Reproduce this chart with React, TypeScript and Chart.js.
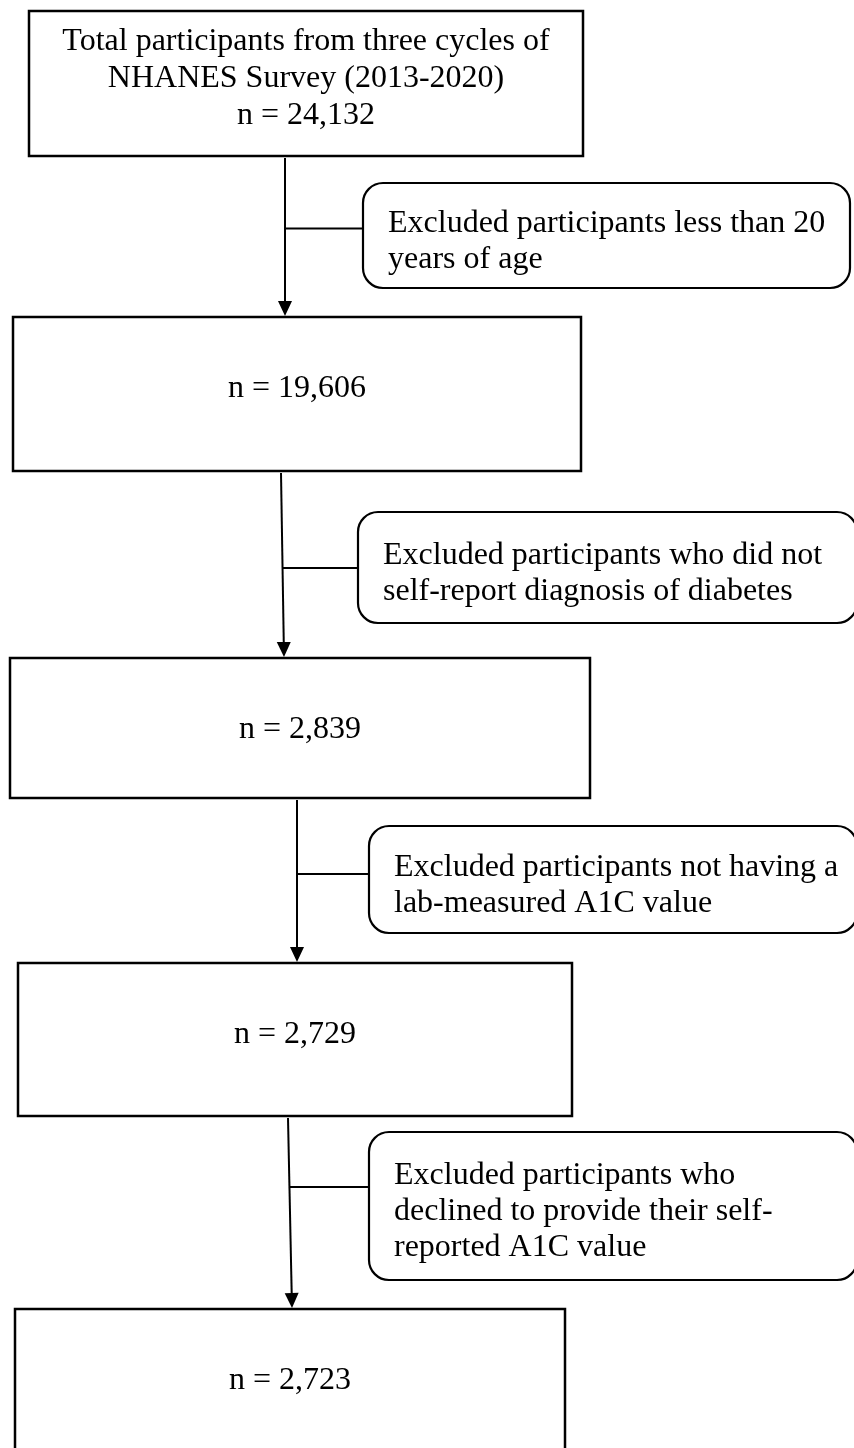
import React, { useEffect, useRef } from "react";
import { Chart, registerables } from "chart.js";

Chart.register(...registerables);

// ---------- data ----------
const stageHeading = ["Total participants from three cycles of", "NHANES Survey (2013-2020)"];
const stageCounts = ["24,132", "19,606", "2,839", "2,729", "2,723"];
const exclusion1 = ["Excluded participants less than 20", "years of age"];
const exclusion2 = ["Excluded participants who did not", "self-report diagnosis of diabetes"];
const exclusion3 = ["Excluded participants not having a", "lab-measured A1C value"];
const exclusion4 = ["Excluded participants who", "declined to provide their self-", "reported A1C value"];
const exclusionLines = [exclusion1, exclusion2, exclusion3, exclusion4];

// ---------- layout (chart units: x 0..854, y 0..1448 downward) ----------
const stageBoxes = [
  { x0: 29, x1: 583, y0: 11, y1: 156 },
  { x0: 13, x1: 581, y0: 317, y1: 471 },
  { x0: 10, x1: 590, y0: 658, y1: 798 },
  { x0: 18, x1: 572, y0: 963, y1: 1116 },
  { x0: 15, x1: 565, y0: 1309, y1: 1460 },
];
const exclusionBoxes = [
  { x0: 363, x1: 850, y0: 183, y1: 288 },
  { x0: 358, x1: 857, y0: 512, y1: 623 },
  { x0: 369, x1: 857, y0: 826, y1: 933 },
  { x0: 369, x1: 857, y0: 1132, y1: 1280 },
];
const arrows = [
  { xa: 285, ya: 158, xb: 285, yb: 316, branchY: 228.5 },
  { xa: 281, ya: 473, xb: 284, yb: 657, branchY: 568 },
  { xa: 297, ya: 800, xb: 297, yb: 962, branchY: 874 },
  { xa: 288, ya: 1118, xb: 292, yb: 1308, branchY: 1187 },
];

const FONT = '32px "Liberation Serif", "Times New Roman", serif';
const LINE_GAP = 36;

function drawText(ctx: CanvasRenderingContext2D, t: string, x: number, y: number, align: CanvasTextAlign) {
  ctx.textAlign = align;
  ctx.textBaseline = "alphabetic";
  ctx.fillText(t, x, y);
}

const flowPlugin = {
  id: "flowchart",
  afterDraw(chart: any) {
    const ctx: CanvasRenderingContext2D = chart.ctx;
    const sx = chart.scales.x;
    const sy = chart.scales.y;
    const X = (v: number) => sx.getPixelForValue(v);
    const Y = (v: number) => sy.getPixelForValue(v);

    ctx.save();
    ctx.fillStyle = "#000";
    ctx.strokeStyle = "#000";
    ctx.font = FONT;

    // stage boxes
    stageBoxes.forEach((b, i) => {
      const x0 = X(b.x0), x1 = X(b.x1), y0 = Y(b.y0), y1 = Y(b.y1);
      ctx.lineWidth = 2.5;
      ctx.strokeRect(x0, y0, x1 - x0, y1 - y0);
      const cx = (x0 + x1) / 2;
      if (i === 0) {
        const lines = [...stageHeading, "n = " + stageCounts[i]];
        lines.forEach((t, k) => drawText(ctx, t, cx, y0 + 39 + k * 37, "center"));
      } else {
        drawText(ctx, "n = " + stageCounts[i], cx, y0 + 80, "center");
      }
    });

    // exclusion boxes
    exclusionBoxes.forEach((b, i) => {
      const x0 = X(b.x0), x1 = X(b.x1), y0 = Y(b.y0), y1 = Y(b.y1);
      ctx.lineWidth = 2.2;
      ctx.beginPath();
      ctx.roundRect(x0, y0, x1 - x0, y1 - y0, 20);
      ctx.stroke();
      const lines = exclusionLines[i];
      const cy = (y0 + y1) / 2;
      lines.forEach((t, k) => {
        const y = cy + (k - (lines.length - 1) / 2) * LINE_GAP + 14;
        drawText(ctx, t, x0 + 25, y, "left");
      });
    });

    // arrows and branch lines
    arrows.forEach((a, i) => {
      const xa = X(a.xa), ya = Y(a.ya), xb = X(a.xb), yb = Y(a.yb);
      const ah = 15, aw = 7;
      const ang = Math.atan2(yb - ya, xb - xa);
      const bx = xb - ah * Math.cos(ang), by = yb - ah * Math.sin(ang);
      ctx.lineWidth = 2;
      ctx.beginPath();
      ctx.moveTo(xa, ya);
      ctx.lineTo(bx, by);
      ctx.stroke();
      ctx.beginPath();
      ctx.moveTo(xb, yb);
      ctx.lineTo(bx + aw * Math.sin(ang), by - aw * Math.cos(ang));
      ctx.lineTo(bx - aw * Math.sin(ang), by + aw * Math.cos(ang));
      ctx.closePath();
      ctx.fill();
      // branch line to exclusion box
      const t = (a.branchY - a.ya) / (a.yb - a.ya);
      const jx = a.xa + t * (a.xb - a.xa);
      ctx.lineWidth = 1.8;
      ctx.beginPath();
      ctx.moveTo(X(jx), Y(a.branchY));
      ctx.lineTo(X(exclusionBoxes[i].x0), Y(a.branchY));
      ctx.stroke();
    });
    ctx.restore();
  },
};

export default function App() {
  const ref = useRef<HTMLCanvasElement | null>(null);
  useEffect(() => {
    document.body.style.margin = "0";
    const canvas = ref.current;
    if (!canvas) return;
    const chart = new Chart(canvas, {
      type: "scatter",
      data: { datasets: [{ data: [], pointRadius: 0 }] },
      options: {
        animation: false,
        responsive: false,
        maintainAspectRatio: false,
        devicePixelRatio: 1,
        layout: { padding: 0 },
        events: [],
        plugins: { legend: { display: false }, tooltip: { enabled: false } },
        scales: {
          x: { type: "linear", min: 0, max: 854, display: false },
          y: { type: "linear", min: 0, max: 1448, reverse: true, display: false },
        },
      },
      plugins: [flowPlugin],
    });
    return () => chart.destroy();
  }, []);
  return (
    <div style={{ position: "absolute", left: 0, top: 0, width: 854, height: 1448, background: "#fff" }}>
      <canvas ref={ref} width={854} height={1448} style={{ display: "block", width: 854, height: 1448 }} />
    </div>
  );
}
